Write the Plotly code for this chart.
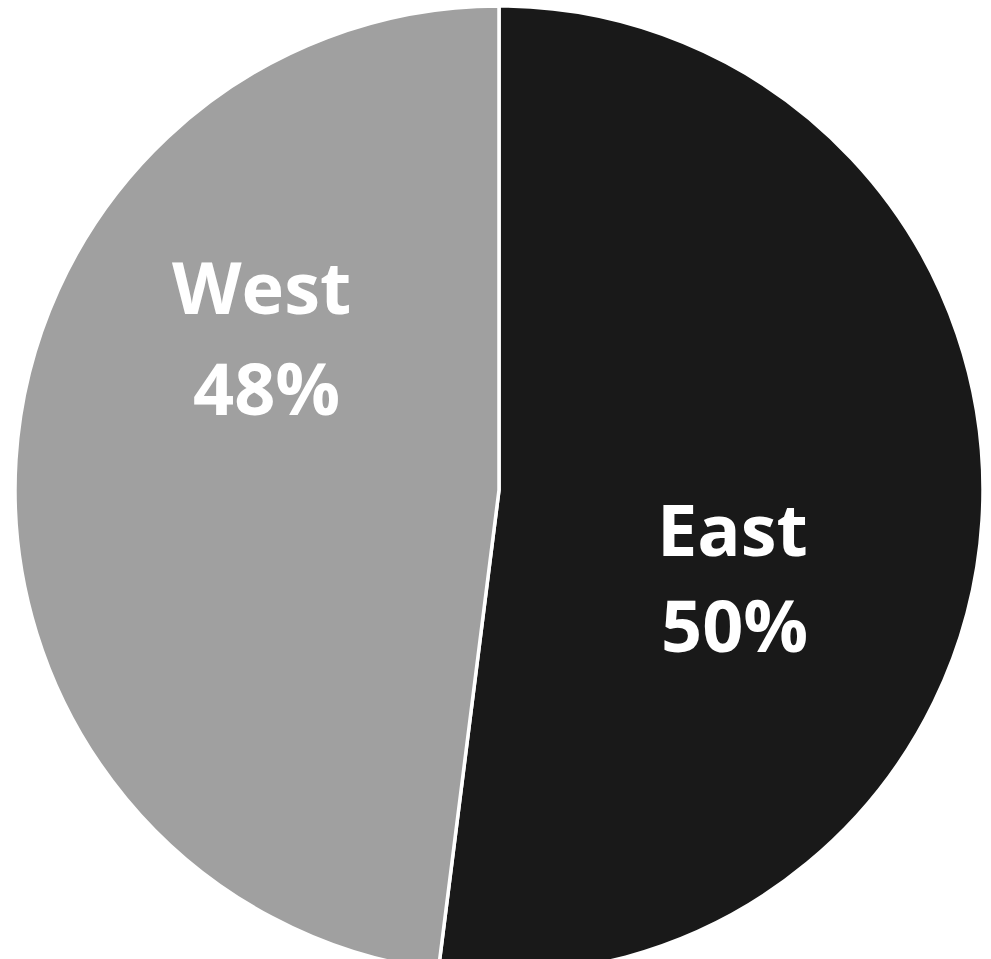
import plotly.graph_objects as go

regions = ["East", "West"]
values = [52, 48]
shown_pct = ["50%", "48%"]
colors = ["#191919", "#a0a0a0"]
# paper-coordinate anchors for (name, percent) labels of each slice
name_pos = [(0.7417, 0.4607), (0.2546, 0.7107)]
pct_pos = [(0.7428, 0.3616), (0.2603, 0.6069)]

fig = go.Figure(
    go.Pie(
        labels=regions,
        values=values,
        sort=False,
        direction="clockwise",
        rotation=0,
        marker=dict(colors=colors, line=dict(color="white", width=3.5)),
        textinfo="none",
        hoverinfo="label+percent",
        showlegend=False,
    )
)

font = dict(family="Open Sans", size=72, color="white")
for name, pct, npos, ppos in zip(regions, shown_pct, name_pos, pct_pos):
    for txt, (x, y) in ((name, npos), (pct, ppos)):
        fig.add_annotation(
            x=x, y=y, xref="paper", yref="paper",
            xanchor="center", yanchor="middle",
            text=f"<b>{txt}</b>",
            showarrow=False,
            font=font,
        )

fig.update_layout(
    width=991,
    height=980,
    margin=dict(l=15, r=8, t=6, b=6),
    paper_bgcolor="white",
    plot_bgcolor="white",
)

fig.write_html(
    "out.html",
    config={"displayModeBar": False},
    post_script="document.body.style.margin='0';document.body.style.overflow='hidden';",
)
